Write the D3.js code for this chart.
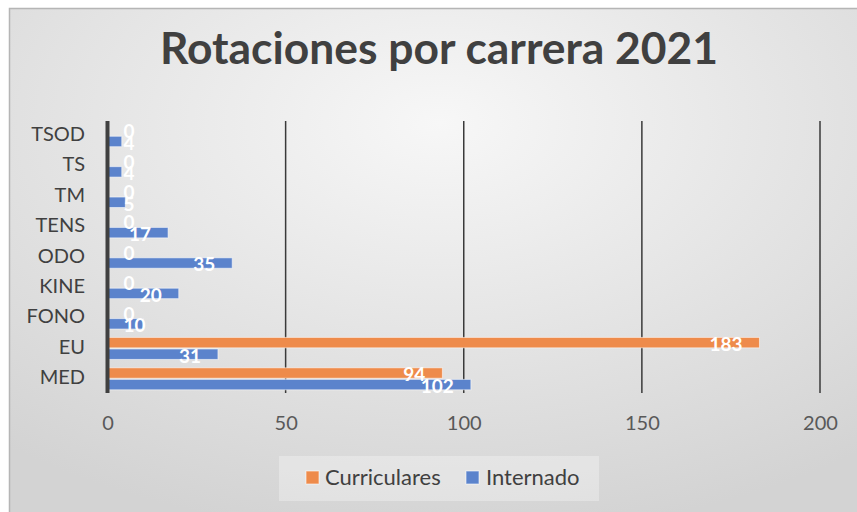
<!DOCTYPE html>
<html><head><meta charset="utf-8">
<script src="https://cdn.jsdelivr.net/npm/d3@7"></script>
<style>html,body{margin:0;padding:0;background:#fff;}svg{display:block;}</style>
</head><body>
<svg id="chart" width="857" height="512"></svg>
<script>
const categories = ["TSOD","TS","TM","TENS","ODO","KINE","FONO","EU","MED"];
const seriesNames = ["Curriculares","Internado"];
const curriculares = [0,0,0,0,0,0,0,183,94];
const internado = [4,4,5,17,35,20,10,31,102];
const xTicks = [0,50,100,150,200];
const colors = {"Curriculares":"#ee8b4b","Internado":"#5b83cc"};
const FONT = "Lato, 'Open Sans', sans-serif";

const svg = d3.select("#chart");
const defs = svg.append("defs");
const grad = defs.append("radialGradient").attr("id","bg")
  .attr("cx","50%").attr("cy","22%").attr("r","80%");
grad.append("stop").attr("offset","0%").attr("stop-color","#f7f7f7");
grad.append("stop").attr("offset","100%").attr("stop-color","#d3d3d3");

svg.append("rect").attr("x",9.5).attr("y",8.5).attr("width",860).attr("height",520)
  .attr("fill","url(#bg)").attr("stroke","#b5b5b5").attr("stroke-width",1.5);

// title
svg.append("text").attr("x",439).attr("y",64).attr("text-anchor","middle")
  .attr("font-family",FONT).attr("font-weight","bold").attr("font-size",44.4)
  .attr("fill","#404040").text("Rotaciones por carrera 2021");

const x = d3.scaleLinear().domain([0,200]).range([107.5,820]);
const y = d3.scaleBand().domain(categories).range([120.5,394]).paddingInner(0.276).paddingOuter(0.138);
const yi = d3.scaleBand().domain(seriesNames).range([0,y.bandwidth()]).paddingInner(0.1);

const plotTop = 121, plotBottom = 393;

// gridlines
svg.append("g").selectAll("line").data(xTicks.filter(t=>t>0)).join("line")
  .attr("x1",d=>x(d)).attr("x2",d=>x(d)).attr("y1",plotTop).attr("y2",plotBottom)
  .attr("stroke","#3a3a3a").attr("stroke-width",1.5);

// tick labels via axis
const xAxis = svg.append("g").attr("transform",`translate(0,${plotBottom})`)
  .call(d3.axisBottom(x).tickValues(xTicks).tickSize(0).tickPadding(23));
xAxis.select(".domain").remove();
xAxis.selectAll("text").attr("font-family",FONT).attr("font-size",20).attr("fill","#595959");

const data = categories.map((c,i)=>({cat:c, values:[
  {s:"Curriculares", v:curriculares[i]},
  {s:"Internado", v:internado[i]}]}));

const groups = svg.append("g").selectAll("g").data(data).join("g")
  .attr("transform",d=>`translate(0,${y(d.cat)})`);

groups.selectAll("rect").data(d=>d.values).join("rect")
  .attr("x",x(0)).attr("y",d=>yi(d.s)).attr("height",yi.bandwidth())
  .attr("width",d=>x(d.v)-x(0))
  .attr("fill",d=>colors[d.s])
  .attr("stroke","rgba(255,255,255,0.55)").attr("stroke-width",d=>d.v>0?1:0);

// data labels
groups.selectAll("text").data(d=>d.values).join("text")
  .attr("font-family",FONT).attr("font-weight","bold").attr("font-size",19)
  .attr("fill","#ffffff").attr("text-anchor","end")
  .attr("y",d=>yi(d.s)+yi.bandwidth()/2+1.5).attr("dy","0.36em")
  .text(d=>d.v)
  .each(function(d){
    const w = this.getComputedTextLength();
    d3.select(this).attr("x", Math.max(x(d.v)-17, x(0)+16+w));
  });

// left axis line
svg.append("line").attr("x1",x(0)).attr("x2",x(0)).attr("y1",plotTop).attr("y2",plotBottom)
  .attr("stroke","#404040").attr("stroke-width",4);

// category labels
const yAxis = svg.append("g").attr("transform",`translate(85,-1)`)
  .call(d3.axisLeft(y).tickSize(0).tickPadding(0));
yAxis.select(".domain").remove();
yAxis.selectAll("text").attr("font-family",FONT).attr("font-size",20).attr("fill","#404040");

// legend
const lg = svg.append("g");
lg.append("rect").attr("x",279).attr("y",456).attr("width",320).attr("height",45)
  .attr("fill","rgba(255,255,255,0.3)");
const legendItems = [{s:"Curriculares",sx:306,tx:325},{s:"Internado",sx:466,tx:486}];
legendItems.forEach(it=>{
  lg.append("rect").attr("x",it.sx).attr("y",471).attr("width",13).attr("height",13)
    .attr("fill",colors[it.s]).attr("stroke","rgba(255,255,255,0.6)").attr("stroke-width",1);
  lg.append("text").attr("x",it.tx).attr("y",485).attr("font-family",FONT).attr("font-size",22)
    .attr("fill","#404040").text(it.s);
});
</script>
</body></html>
